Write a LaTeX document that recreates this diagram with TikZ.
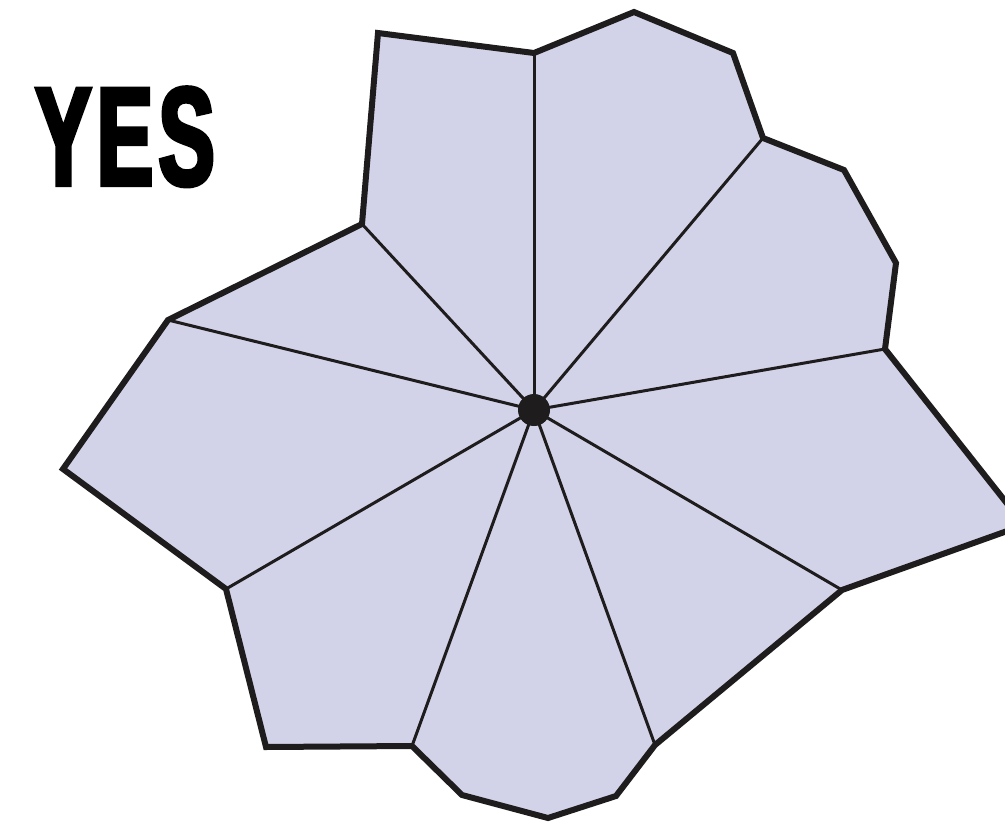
\documentclass[tikz,border=0pt]{standalone}
\usepackage{fontspec}
\usepackage{xcolor}
\newfontfamily\yesfont[FakeStretch=0.6,FakeBold=3,LetterSpace=4]{Liberation Sans}
\definecolor{cellfill}{RGB}{210,211,233}
\definecolor{edgeblack}{RGB}{30,28,28}
\tikzset{
  rim/.style={draw=edgeblack, line width=6pt, line join=miter, fill=cellfill},
  spoke/.style={draw=edgeblack, line width=3pt},
}

\begin{document}
\begin{tikzpicture}[x=1pt,y=-1pt]
        \useasboundingbox (0,0) rectangle (1005,825);
        \clip (0,0) rectangle (1005,825);

        % centre and spoke ends
        \coordinate (c) at (534,410);
        \coordinate (s1) at (534,53);
        \coordinate (s2) at (763,138);
        \coordinate (s3) at (885,349);
        \coordinate (s4) at (842,590);
        \coordinate (s5) at (655,745);
        \coordinate (s6) at (412,746);
        \coordinate (s7) at (226,589);
        \coordinate (s8) at (168,320);
        \coordinate (s9) at (362,224);

        % outer corners between spokes
        \coordinate (o1) at (378,33);
        \coordinate (o2) at (634,12);
        \coordinate (o3) at (733,53);
        \coordinate (o4) at (844,170);
        \coordinate (o5) at (896,263);
        \coordinate (o6) at (1024,525);
        \coordinate (o7) at (616,796);
        \coordinate (o8) at (548,818);
        \coordinate (o9) at (462,795);
        \coordinate (o10) at (266,747);
        \coordinate (o11) at (63,469);

        \path[rim] (o1) -- (s1) -- (o2) -- (o3) -- (s2) -- (o4) -- (o5) -- (s3)
            -- (o6) -- (s4) -- (s5) -- (o7) -- (o8) -- (o9) -- (s6) -- (o10)
            -- (s7) -- (o11) -- (s8) -- (s9) -- cycle;

        \foreach \i in {1,...,9}
            \draw[spoke] (c) -- (s\i);

        \node[circle, fill=edgeblack, inner sep=0pt, minimum size=32pt] (hub) at (c) {};

        \node[anchor=base, inner sep=0pt, font=\yesfont\bfseries\fontsize{140}{140}\selectfont] (yes) at (125,185) {YES};
    \end{tikzpicture}
\end{document}
